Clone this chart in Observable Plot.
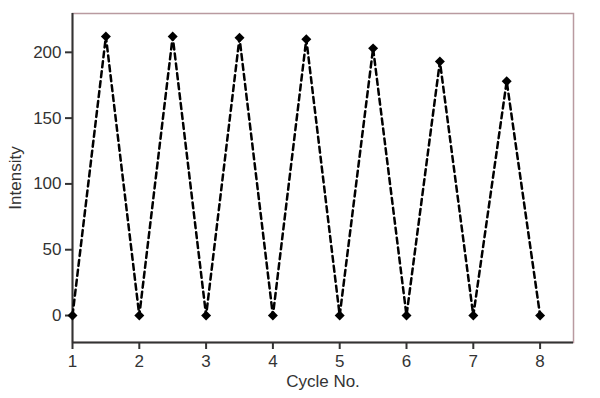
<!DOCTYPE html>
<html>
<head>
<meta charset="utf-8">
<script src="https://cdn.jsdelivr.net/npm/d3@7"></script>
<script src="https://cdn.jsdelivr.net/npm/@observablehq/plot@0.6"></script>
<style>
  html, body { margin: 0; padding: 0; background: #fff; }
  #chart svg { display: block; }
</style>
</head>
<body>
<div id="chart"></div>
<script>
const cycles = [1, 1.5, 2, 2.5, 3, 3.5, 4, 4.5, 5, 5.5, 6, 6.5, 7, 7.5, 8];
const intensity = [0, 212, 0, 212, 0, 211, 0, 210, 0, 203, 0, 193, 0, 178, 0];
const xTicks = [1, 2, 3, 4, 5, 6, 7, 8];
const yTicks = [0, 50, 100, 150, 200];

const data = cycles.map((c, i) => ({cycle: c, value: intensity[i]}));
const xDomain = [1, 8.5];
const yDomain = [-20.5, 229.5];

const chart = Plot.plot({
  width: 600,
  height: 398,
  marginLeft: 72,
  marginRight: 27,
  marginTop: 13,
  marginBottom: 56,
  style: {fontFamily: "'Liberation Sans', Arial, sans-serif", fontSize: "17px", color: "#333", background: "#fff"},
  x: {domain: xDomain},
  y: {domain: yDomain},
  marks: [
    Plot.frame({stroke: "#b99aa0", strokeWidth: 1.5}),
    Plot.ruleX([xDomain[0]], {stroke: "#333", strokeWidth: 2}),
    Plot.ruleY([yDomain[0]], {stroke: "#333", strokeWidth: 2}),
    Plot.axisX({ticks: xTicks, tickSize: 7, tickPadding: 5, tickFormat: d => d, stroke: "#333", strokeWidth: 2, fill: "#333", label: "Cycle No.", labelAnchor: "center", labelArrow: "none", labelOffset: 44}),
    Plot.axisY({ticks: yTicks, tickSize: 7, tickPadding: 4, stroke: "#333", strokeWidth: 2, fill: "#333", label: "Intensity", labelAnchor: "center", labelArrow: "none", labelOffset: 64}),
    Plot.line(data, {x: "cycle", y: "value", stroke: "#000", strokeWidth: 2.5, strokeDasharray: "6,4"}),
    Plot.dot(data, {x: "cycle", y: "value", symbol: "diamond2", r: 4.5, fill: "#000", stroke: "none"})
  ]
});
chart.querySelectorAll("text").forEach(t => { t.style.fontSize = "17px"; });
chart.querySelectorAll("g").forEach(g => { if (g.getAttribute("font-size")) g.setAttribute("font-size", "17"); });
document.getElementById("chart").appendChild(chart);
</script>
</body>
</html>
